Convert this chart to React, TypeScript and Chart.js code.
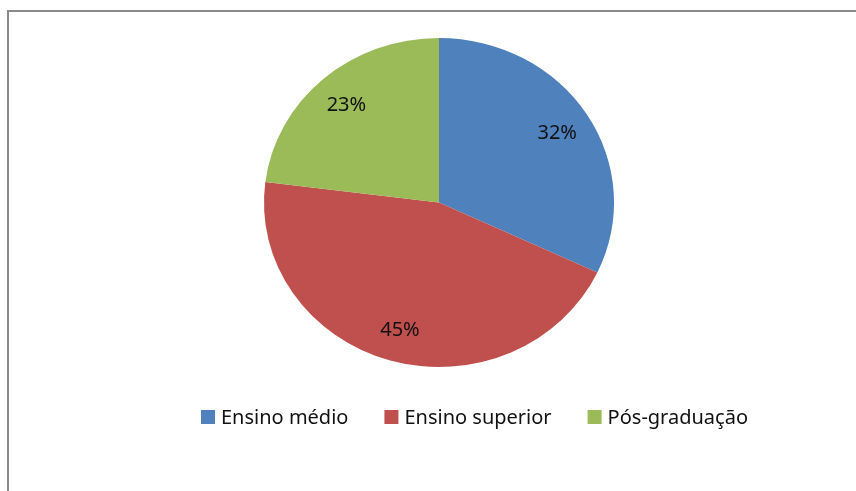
import React, { useEffect, useRef } from "react";
import { Chart, registerables } from "chart.js";

Chart.register(...registerables);

const categories = ["Ensino médio", "Ensino superior", "Pós-graduação"];
const values = [32, 45, 23];
const colors = ["#4F81BD", "#C0504D", "#9BBB59"];

const FONT = '"Noto Sans", sans-serif';
const STRETCH_X = 1.064;

const pieStylePlugin = {
  id: "pieStretchAndLabels",
  beforeDatasetsDraw(chart: any) {
    const ctx = chart.ctx;
    const meta = chart.getDatasetMeta(0);
    const arc = meta.data[0];
    if (!arc) return;
    const cx = arc.x;
    ctx.save();
    ctx.translate(cx, 0);
    ctx.scale(STRETCH_X, 1);
    ctx.translate(-cx, 0);
  },
  afterDatasetsDraw(chart: any) {
    const ctx = chart.ctx;
    ctx.restore();
    const meta = chart.getDatasetMeta(0);
    const total = values.reduce((a, b) => a + b, 0);
    ctx.save();
    ctx.font = `20px ${FONT}`;
    ctx.fillStyle = "#111";
    ctx.textAlign = "center";
    ctx.textBaseline = "alphabetic";
    meta.data.forEach((arc: any, i: number) => {
      const p = arc.getProps(["x", "y", "startAngle", "endAngle", "outerRadius"], true);
      const mid = (p.startAngle + p.endAngle) / 2;
      const r = p.outerRadius * 0.8;
      const x = p.x + Math.cos(mid) * r * STRETCH_X;
      const y = p.y + Math.sin(mid) * r;
      const txt = Math.round((values[i] / total) * 100) + "%";
      ctx.fillText(txt, x, y + 7.5);
    });
    ctx.restore();
  },
};

const legendPlugin = {
  id: "customLegend",
  afterDraw(chart: any) {
    const ctx = chart.ctx;
    ctx.save();
    ctx.font = `20px ${FONT}`;
    const box = 14;
    const boxGap = 6;
    const itemGap = 36;
    const widths = categories.map((c) => ctx.measureText(c).width);
    const total =
      widths.reduce((a, b) => a + b, 0) + categories.length * (box + boxGap) + itemGap * (categories.length - 1);
    let x = 474.5 - total / 2;
    const baseline = 424;
    categories.forEach((c, i) => {
      ctx.fillStyle = colors[i];
      ctx.fillRect(x, baseline - box, box, box);
      x += box + boxGap;
      ctx.fillStyle = "#111";
      ctx.textAlign = "left";
      ctx.textBaseline = "alphabetic";
      ctx.fillText(c, x, baseline);
      x += widths[i] + itemGap;
    });
    ctx.restore();
  },
};

export default function App() {
  const ref = useRef<HTMLCanvasElement | null>(null);
  useEffect(() => {
    if (!ref.current) return;
    const chart = new Chart(ref.current, {
      type: "pie",
      data: {
        labels: categories,
        datasets: [
          {
            data: values,
            backgroundColor: colors,
            borderWidth: 0,
          },
        ],
      },
      options: {
        animation: false,
        responsive: false,
        layout: { padding: { top: 38, bottom: 124, left: 22, right: 0 } },
        plugins: {
          legend: { display: false },
          tooltip: { enabled: false },
        },
      },
      plugins: [pieStylePlugin, legendPlugin],
    });
    return () => chart.destroy();
  }, []);
  return (
    <div style={{ position: "fixed", left: 0, top: 0, width: 856, height: 491, background: "#fff", overflow: "hidden" }}>
      <div
        style={{
          position: "absolute",
          left: 7,
          top: 10,
          width: 849,
          height: 481,
          borderTop: "2px solid #8a8a8a",
          borderLeft: "2px solid #8a8a8a",
          boxSizing: "border-box",
        }}
      />
      <canvas ref={ref} width={856} height={491} style={{ position: "absolute", left: 0, top: 0 }} />
    </div>
  );
}
